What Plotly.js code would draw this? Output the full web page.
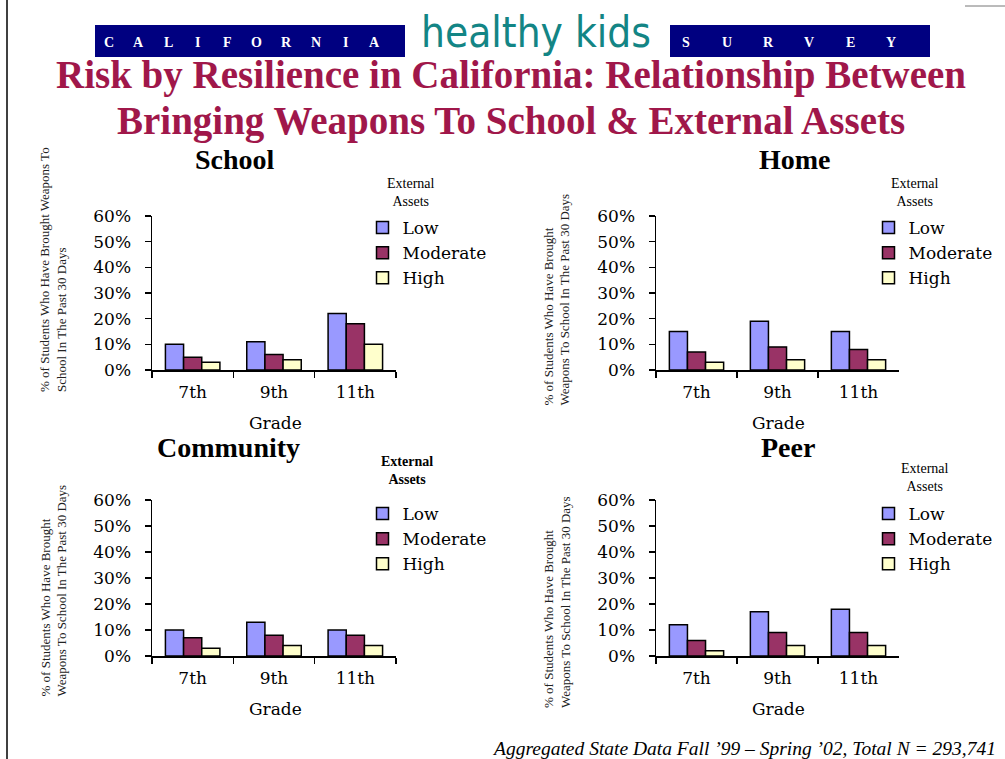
<!DOCTYPE html>
<html>
<head>
<meta charset="utf-8">
<script src="https://cdn.plot.ly/plotly-3.0.1.min.js"></script>
<style>html,body{margin:0;padding:0;background:#fff;}#chart{width:1005px;height:759px;}</style>
</head>
<body>
<div id="chart"></div>
<script>
// ---- data ----
const grades = ['7th', '9th', '11th'];
const seriesNames = ['Low', 'Moderate', 'High'];
const schoolLow = [10, 11, 22];
const schoolModerate = [5, 6, 18];
const schoolHigh = [3, 4, 10];
const homeLow = [15, 19, 15];
const homeModerate = [7, 9, 8];
const homeHigh = [3, 4, 4];
const communityLow = [10, 13, 10];
const communityModerate = [7, 8, 8];
const communityHigh = [3, 4, 4];
const peerLow = [12, 17, 18];
const peerModerate = [6, 9, 9];
const peerHigh = [2, 4, 4];
const yTickValues = [0, 10, 20, 30, 40, 50, 60];
const yTickLabels = ['0%', '10%', '20%', '30%', '40%', '50%', '60%'];
const panelTitles = ['School', 'Home', 'Community', 'Peer'];
const headerLeftLetters = ['C','A','L','I','F','O','R','N','I','A'];
const headerRightLetters = ['S','U','R','V','E','Y'];
const titleLines = ['Risk by Resilience in California: Relationship Between', 'Bringing Weapons To School &amp; External Assets'];

// ---- layout helpers ----
const W = 1005, H = 759;
const X = px => px / W;
const Y = py => 1 - py / H;
const colors = ['#9999FF', '#993366', '#FFFFCC'];
const serifTick = 'DejaVu Serif';
const serifText = 'Liberation Serif, Times New Roman, serif';

const panels = [
  {vals: [schoolLow, schoolModerate, schoolHigh], x0: 152, x1: 396, y0: 216, y1: 370},
  {vals: [homeLow, homeModerate, homeHigh], x0: 656, x1: 899, y0: 216, y1: 370},
  {vals: [communityLow, communityModerate, communityHigh], x0: 152, x1: 396, y0: 500, y1: 656},
  {vals: [peerLow, peerModerate, peerHigh], x0: 656, x1: 899, y0: 500, y1: 656}
];

const traces = [];
const layout = {
  width: W, height: H,
  margin: {l: 0, r: 0, t: 0, b: 0},
  paper_bgcolor: '#ffffff', plot_bgcolor: 'rgba(0,0,0,0)',
  barmode: 'group', bargap: 0.33, bargroupgap: 0,
  showlegend: true,
  annotations: [], shapes: []
};

const legendPos = [
  {sx: 384.5, sy: 224}, {sx: 890.5, sy: 224}, {sx: 384.5, sy: 510}, {sx: 890.5, sy: 510}
];

panels.forEach((p, i) => {
  const n = i === 0 ? '' : String(i + 1);
  const legName = 'legend' + n;
  seriesNames.forEach((name, k) => {
    traces.push({
      type: 'bar', x: grades, y: p.vals[k], name: name,
      xaxis: 'x' + n, yaxis: 'y' + n, legend: legName,
      marker: {color: colors[k], line: {color: '#000000', width: 1.5}},
      hoverinfo: 'x+y+name'
    });
  });
  layout['xaxis' + n] = {
    domain: [X(p.x0), X(p.x1)], anchor: 'y' + n,
    type: 'category', range: [-0.5, 2.5],
    showline: true, linecolor: '#000', linewidth: 1.5,
    ticks: 'outside', tickson: 'boundaries', ticklen: 6, tickwidth: 1.5, tickcolor: '#000',
    ticklabelstandoff: 6,
    tickfont: {family: serifTick, size: 17, color: '#000'},
    showgrid: false, zeroline: false, fixedrange: true
  };
  layout['yaxis' + n] = {
    domain: [Y(p.y1), Y(p.y0)], anchor: 'x' + n,
    range: [0, 60], tickmode: 'array', tickvals: yTickValues, ticktext: yTickLabels,
    showline: true, linecolor: '#000', linewidth: 1.5,
    ticks: 'outside', ticklen: 6, tickwidth: 1.5, tickcolor: '#000',
    ticklabelstandoff: 10,
    tickfont: {family: serifTick, size: 17, color: '#000'},
    showgrid: false, zeroline: false, fixedrange: true
  };
  const lp = legendPos[i];
  layout[legName] = {
    x: X(lp.sx - 22), y: Y(lp.sy - 14), xanchor: 'left', yanchor: 'top',
    bgcolor: 'rgba(0,0,0,0)', borderwidth: 0,
    font: {family: serifTick, size: 17, color: '#000'},
    traceorder: 'normal'
  };
});

// panel titles
const titlePos = [[235, 160], [795, 160], [228, 447], [788, 447]];
panelTitles.forEach((t, i) => {
  layout.annotations.push({
    xref: 'paper', yref: 'paper', x: X(titlePos[i][0]), y: Y(titlePos[i][1]),
    xanchor: 'center', yanchor: 'middle', showarrow: false,
    text: '<b>' + t + '</b>', font: {family: serifText, size: 28, color: '#000'}
  });
});

// legend headings
const legTitlePos = [[411, 192, false], [915, 192, false], [407, 470, true], [925, 477, false]];
legTitlePos.forEach(([x, y, bold]) => {
  layout.annotations.push({
    xref: 'paper', yref: 'paper', x: X(x), y: Y(y),
    xanchor: 'center', yanchor: 'middle', showarrow: false, align: 'center',
    text: bold ? '<b>External</b><br><b>Assets</b>' : 'External<br>Assets',
    font: {family: serifText, size: 14, color: '#000'}
  });
});

// x axis titles
const gradePos = [[275, 423], [778, 423], [275, 709], [778, 709]];
gradePos.forEach(([x, y]) => {
  layout.annotations.push({
    xref: 'paper', yref: 'paper', x: X(x), y: Y(y),
    xanchor: 'center', yanchor: 'middle', showarrow: false,
    text: 'Grade', font: {family: serifTick, size: 17, color: '#000'}
  });
});

// y axis titles
const yTitles = [
  {text: '% of Students Who Have Brought Weapons To<br>School In The Past 30 Days', x: 53, y: 270},
  {text: '% of Students Who Have Brought<br>Weapons To School In The Past 30 Days', x: 556.5, y: 300},
  {text: '% of Students Who Have Brought<br>Weapons To School In The Past 30 Days', x: 53.5, y: 591},
  {text: '% of Students Who Have Brought<br>Weapons To School In The Past 30 Days', x: 557, y: 602}
];
yTitles.forEach(t => {
  layout.annotations.push({
    xref: 'paper', yref: 'paper', x: X(t.x), y: Y(t.y),
    xanchor: 'center', yanchor: 'middle', showarrow: false, textangle: -90, align: 'left',
    text: t.text, font: {family: serifText, size: 13, color: '#222'}
  });
});

// header
layout.shapes.push(
  {type: 'rect', xref: 'paper', yref: 'paper', x0: X(95), x1: X(405), y0: Y(57), y1: Y(25), fillcolor: '#000080', line: {width: 0}, layer: 'below'},
  {type: 'rect', xref: 'paper', yref: 'paper', x0: X(670), x1: X(930), y0: Y(57), y1: Y(25), fillcolor: '#000080', line: {width: 0}, layer: 'below'},
  {type: 'line', xref: 'paper', yref: 'paper', x0: X(7), x1: X(7), y0: 0, y1: 1, line: {color: '#000', width: 1.5}},
  {type: 'line', xref: 'paper', yref: 'paper', x0: X(965), x1: 1, y0: Y(6), y1: Y(6), line: {color: '#777', width: 1}}
);
headerLeftLetters.forEach((c, i) => {
  layout.annotations.push({
    xref: 'paper', yref: 'paper', x: X(109 + i * 29.5), y: Y(42), xanchor: 'center', yanchor: 'middle',
    showarrow: false, text: '<b>' + c + '</b>', font: {family: serifText, size: 14, color: '#fff'}
  });
});
headerRightLetters.forEach((c, i) => {
  layout.annotations.push({
    xref: 'paper', yref: 'paper', x: X(686 + i * 41), y: Y(42), xanchor: 'center', yanchor: 'middle',
    showarrow: false, text: '<b>' + c + '</b>', font: {family: serifText, size: 14, color: '#fff'}
  });
});
layout.annotations.push({
  xref: 'paper', yref: 'paper', x: X(536), y: Y(32), xanchor: 'center', yanchor: 'middle',
  showarrow: false, text: 'healthy kids',
  font: {family: 'Liberation Sans Narrow, DejaVu Sans Condensed, sans-serif', size: 42, color: '#138585'}
});

// main title (two lines placed separately)
[[titleLines[0], 75], [titleLines[1], 121]].forEach(([t, y]) => {
  layout.annotations.push({
    xref: 'paper', yref: 'paper', x: X(511), y: Y(y), xanchor: 'center', yanchor: 'middle',
    showarrow: false, text: '<b>' + t + '</b>',
    font: {family: serifText, size: 39, color: '#A0174A'}
  });
});

// footer
layout.annotations.push({
  xref: 'paper', yref: 'paper', x: X(998), y: Y(748), xanchor: 'right', yanchor: 'middle',
  showarrow: false, text: '<i>Aggregated State Data Fall ’99 – Spring ’02, Total N = 293,741</i>',
  font: {family: serifText, size: 19.5, color: '#000'}
});

Plotly.newPlot('chart', traces, layout, {displayModeBar: false, staticPlot: true});
</script>
</body>
</html>
